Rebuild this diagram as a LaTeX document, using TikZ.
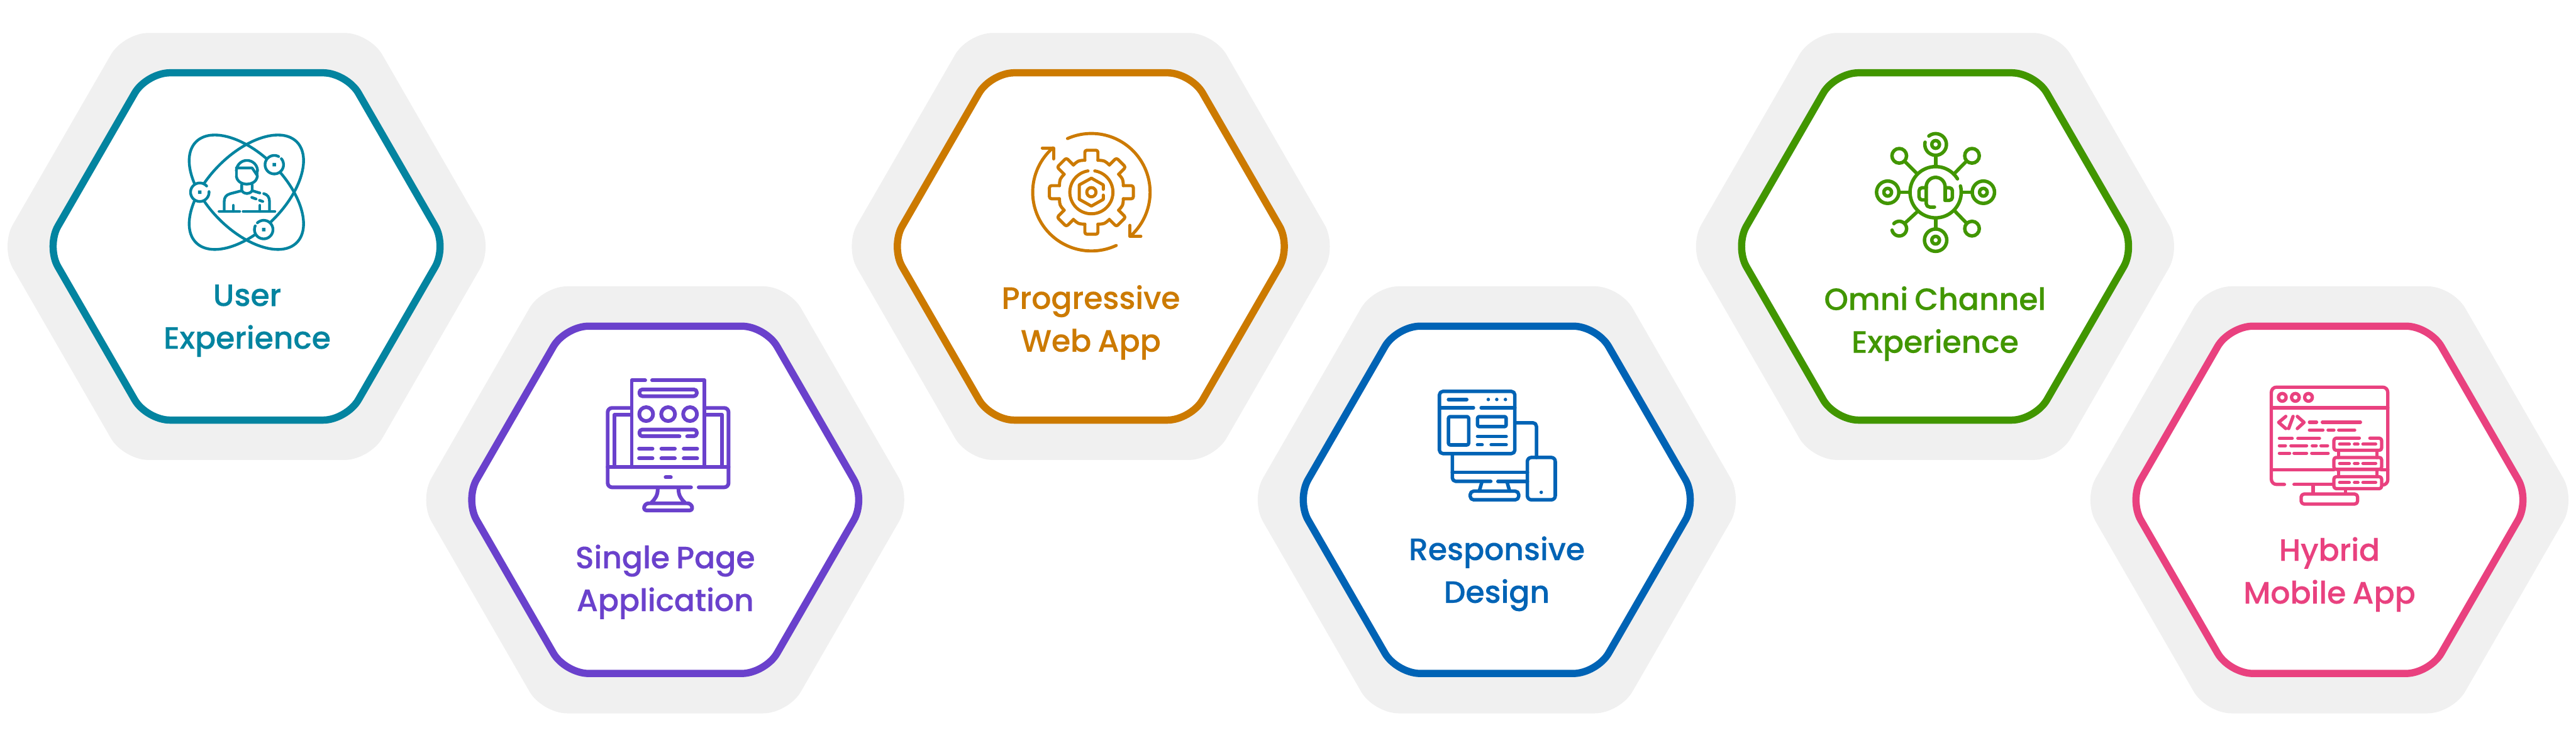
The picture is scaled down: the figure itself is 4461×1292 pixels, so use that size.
\documentclass[tikz,border=0pt]{standalone}
\usepackage{fontspec}
\setmainfont{Poppins}[UprightFont=* Medium,WordSpace=0.8,FakeBold=0.15,LetterSpace=-0.4]
\definecolor{hexgrey}{HTML}{F0F0F0}
\definecolor{cteal}{HTML}{0384A0}
\definecolor{cpurple}{HTML}{6A41CC}
\definecolor{corange}{HTML}{CC7A00}
\definecolor{cblue}{HTML}{0063B5}
\definecolor{cgreen}{HTML}{419600}
\definecolor{cpink}{HTML}{E9417F}
\newcommand\Arc[5]{plot[domain=#4:#5,samples=70,variable=\t] ({#1+#3*cos(\t)},{#2-#3*sin(\t)})}
\newcommand\G[3]{({390+(#1)*cos(#3)-(#2)*sin(#3)},{398-(#1)*sin(#3)-(#2)*cos(#3)})}
\newcommand\hexa[3]{%
  \fill[hexgrey,rounded corners=8.66pt] (#1,#2-369.5) -- (#1+213.3,#2-369.5) -- (#1+426.6,#2) -- (#1+213.3,#2+369.5) -- (#1-213.3,#2+369.5) -- (#1-426.6,#2) -- (#1-213.3,#2-369.5) -- cycle;
  \filldraw[fill=white,draw=#3,line width=2.5pt,rounded corners=8.1pt] (#1,#2-300.5) -- (#1+173.4,#2-300.5) -- (#1+346.9,#2) -- (#1+173.4,#2+300.5) -- (#1-173.4,#2+300.5) -- (#1-346.9,#2) -- (#1-173.4,#2-300.5) -- cycle;
}
\tikzset{
  lbl/.style={align=center,font=\fontsize{10.7}{14.8}\selectfont,inner sep=0pt},
  ico/.style={line cap=round,line join=round,line width=#1,fill=none},
  ico/.default=1.1pt
}
\begin{document}
\begin{tikzpicture}[x=0.2pt,y=-0.2pt]
\useasboundingbox (0,0) rectangle (4461,1292);
\hexa{427}{426.5}{cteal}
\hexa{1152}{865}{cpurple}
\hexa{1889}{426.5}{corange}
\hexa{2592}{865}{cblue}
\hexa{3351}{426.5}{cgreen}
\hexa{4034}{865}{cpink}

\node[lbl,text=cteal] (t1) at (428,555) {User\\Experience};
\node[lbl,text=cpurple] (t2) at (1152,1007) {Single Page\\Application};
\node[lbl,text=corange] (t3) at (1889,558) {Progressive\\Web App};
\node[lbl,text=cblue] (t4) at (2592,993) {Responsive\\Design};
\node[lbl,text=cgreen] (t5) at (3351,560) {Omni Channel\\Experience};
\node[lbl,text=cpink] (t6) at (4034,994) {Hybrid\\Mobile App};

% icon 1
\begin{scope}[shift={(260,200)},scale=1/3,cteal,ico=0.95pt]
\draw[rotate around={45:(500,398)}] (500,398) ellipse [x radius=370,y radius=199];
\draw[rotate around={-45:(500,398)}] (500,398) ellipse [x radius=370,y radius=199];
\fill[white] (645,255) circle [radius=48] (258,398) circle [radius=48] (590,592) circle [radius=48];
\draw \Arc{645}{255}{48}{40}{-298};
\draw \Arc{258}{398}{48}{4}{-318};
\draw \Arc{590}{592}{48}{133}{-204};
\fill (636,246) rectangle (654,264) (249,389) rectangle (267,407) (581,583) rectangle (599,601);
\draw \Arc{503}{288}{55}{0}{180};
\draw (448,288) -- (448,315) (557,288) -- (557,315);
\draw (448,315) .. controls (452,345) and (480,356) .. (503,356) .. controls (526,356) and (553,345) .. (557,315);
\draw (448,272) -- (530,272) -- (557,312);
\draw (476,358) -- (476,390) .. controls (490,410) and (516,410) .. (530,390) -- (530,358);
\draw (476,390) -- (415,406) .. controls (395,412) and (385,425) .. (385,445) -- (385,495);
\draw (530,390) -- (570,402);
\draw (590,405) .. controls (610,410) and (620,425) .. (620,445) -- (620,495);
\draw (528,425) -- (550,433) (568,440) -- (585,446);
\draw (358,498) -- (465,498) (483,498) -- (648,498);
\draw (432,466) -- (432,498) (570,466) -- (570,498);
\end{scope}

% icon 2
\begin{scope}[shift={(1010,630)},scale=1/3,cpurple,ico=1.3pt]
\draw (322,85) -- (252,85) -- (252,535) (358,85) -- (630,85) -- (630,535);
\draw[rounded corners=1pt] (292,132) rectangle (590,167);
\draw (327,260) circle [radius=36] (441,260) circle [radius=36] (555,260) circle [radius=36];
\draw[rounded corners=1pt] (500,375) -- (292,375) -- (292,340) -- (590,340) -- (590,375) -- (540,375);
\foreach \yy in {440,490} \draw (290,\yy) -- (360,\yy) (406,\yy) -- (476,\yy) (522,\yy) -- (592,\yy);
\draw[rounded corners=1.5pt] (243,228) -- (127,228) -- (127,640) -- (560,640);
\draw[rounded corners=1.5pt] (600,640) -- (755,640) -- (755,228) -- (640,228);
\draw (127,535) -- (755,535);
\draw (243,264) -- (162,264) -- (162,535) (640,264) -- (720,264) -- (720,535);
\draw (428,588) -- (455,588);
\draw (387,650) .. controls (387,680) and (375,700) .. (355,718);
\draw (495,650) .. controls (495,680) and (507,700) .. (527,718);
\draw[rounded corners=1.2pt] (312,760) -- (322,723) -- (560,723) -- (570,760) -- cycle;
\end{scope}

% icon 3
\begin{scope}[shift={(1760,200)},scale=1/3,corange,ico=1.07pt]
\draw \Arc{390}{398}{305}{114}{-47};
\draw \Arc{390}{398}{305}{-65}{-229};
\draw (135,168) -- (193,168) -- (193,225);
\draw (590,570) -- (590,627) -- (647,627);
\foreach \a in {0,45,...,315} {
  \pgfmathsetmacro\b{\a-45}
  \pgfmathsetmacro\c{\a-22.5}
  \draw[rounded corners=0.7pt] \G{166}{34}{\a} -- \G{218}{34}{\a} -- \G{218}{-34}{\a} -- \G{166}{-34}{\a};
  \draw \G{166}{-34}{\a} .. controls \G{178}{0}{\c} .. \G{166}{34}{\b};
}
\draw \Arc{390}{398}{112}{81}{-261};
\draw (452,383) -- (452,360) -- (390,325) -- (327,360) -- (327,435) -- (390,470) -- (452,435) -- (452,413);
\draw (390,398) circle [radius=24];
\end{scope}

% icon 4
\begin{scope}[shift={(2460,650)},scale=1/3,cblue,ico=1.2pt]
\draw[rounded corners=1.2pt] (98,82) rectangle (490,405);
\draw (145,124) -- (240,124);
\fill (352,124) circle [radius=9] (396,124) circle [radius=9] (441,124) circle [radius=9];
\draw (98,167) -- (275,167) (315,167) -- (490,167);
\draw[rounded corners=0.6pt] (145,213) rectangle (250,360);
\draw[rounded corners=0.6pt] (296,213) rectangle (445,265);
\draw (296,316) -- (445,316) (296,359) -- (320,359) (367,359) -- (445,359);
\draw[rounded corners=1.2pt] (490,245) -- (602,245) -- (602,425);
\draw[rounded corners=1.2pt] (165,405) -- (165,549) -- (365,549);
\draw (402,549) -- (555,549) (165,502) -- (555,502);
\draw (318,555) -- (305,600) (450,555) -- (463,600);
\draw[rounded corners=1.2pt] (258,600) rectangle (510,645);
\draw[rounded corners=1.4pt] (555,425) rectangle (700,645);
\fill (627,606) circle [radius=9];
\end{scope}

% icon 5
\begin{scope}[shift={(3220,210)},scale=1/3,cgreen,ico=1.2pt]
\draw \Arc{396}{368}{133}{14}{-328.5};
\draw (396,120) circle [radius=20];
\draw \Arc{396}{120}{56}{129}{-192};
\draw (396,180) -- (396,232) (396,505) -- (396,558) (205,368) -- (262,368) (530,368) -- (586,368);
\draw (396,617) circle [radius=20] (396,617) circle [radius=58];
\draw (147,368) circle [radius=20] (147,368) circle [radius=58];
\draw (644,368) circle [radius=20] (644,368) circle [radius=58];
\draw (207,179) circle [radius=38] (585,179) circle [radius=38] (585,557) circle [radius=38];
\draw \Arc{207}{557}{38}{137}{-168};
\draw (235,207) -- (300,272) (555,208) -- (492,272) (495,465) -- (555,527) (300,470) -- (235,530);
\draw \Arc{396}{340}{49}{0}{180};
\draw[rounded corners=1.2pt] (347,340) -- (347,445) -- (390,445);
\draw (445,340) -- (445,410);
\draw[rounded corners=1pt] (347,345) -- (310,345) -- (310,408) -- (347,408);
\draw[rounded corners=1pt] (445,345) -- (483,345) -- (483,410) -- (445,410);
\end{scope}

% icon 6
\begin{scope}[shift={(3910,650)},scale=1/3,cpink,ico=1.15pt]
\draw[rounded corners=1.8pt] (138,565) -- (70,565) -- (70,60) -- (675,60) -- (675,568) -- (645,568);
\draw (188,565) -- (395,565);
\draw (70,167) -- (675,167);
\draw (127,113) circle [radius=20] (195,113) circle [radius=20] (263,113) circle [radius=20];
\draw (145,212) -- (108,243) -- (145,275) (205,212) -- (240,243) -- (205,275) (183,212) -- (160,275);
\draw (268,242) -- (305,242) (335,242) -- (533,242);
\draw (268,283) -- (338,283) (365,283) -- (395,283) (420,283) -- (503,283);
\draw (112,326) -- (178,326) (208,326) -- (320,326);
\draw (112,364) -- (143,364) (172,364) -- (253,364) (283,364) -- (303,364) (328,364) -- (362,364);
\draw (112,403) -- (165,403) (188,403) -- (253,403) (280,403) -- (365,403);
\draw (70,490) -- (395,490) (640,490) -- (675,490);
\draw (287,570) -- (287,610) (456,590) -- (456,610);
\draw[rounded corners=1pt] (225,615) rectangle (518,667);
\filldraw[fill=white,rounded corners=0.8pt] (395,525) rectangle (643,587);
\filldraw[fill=white,rounded corners=0.8pt] (395,425) rectangle (643,487);
\fill[white] (395,325) rectangle (643,388);
\draw[rounded corners=0.8pt] (527,325) -- (395,325) -- (395,388) -- (643,388) -- (643,325) -- (582,325);
\draw (420,388) -- (420,425) (618,388) -- (618,425) (420,487) -- (420,525) (618,487) -- (618,525);
\foreach \yy in {356,456,555} \draw (425,\yy) -- (475,\yy) (502,\yy) -- (520,\yy) (546,\yy) -- (612,\yy);
\end{scope}
\end{tikzpicture}
\end{document}
